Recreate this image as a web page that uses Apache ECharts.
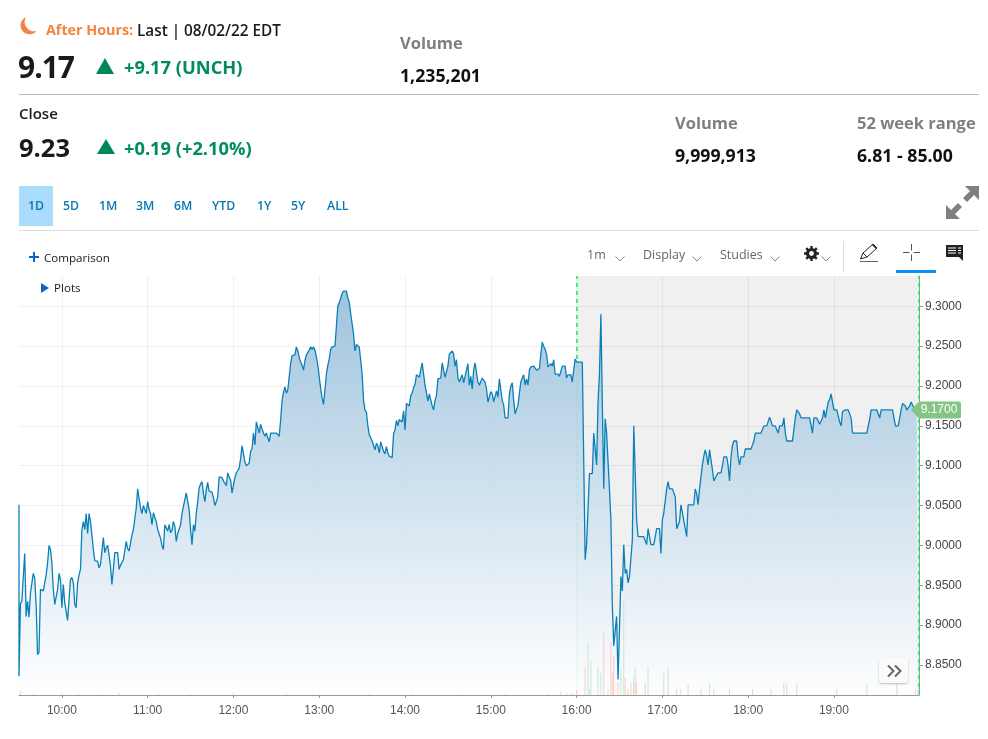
<!DOCTYPE html>
<html>
<head>
<meta charset="utf-8">
<title>After Hours chart</title>
<script src="https://cdn.jsdelivr.net/npm/echarts@6/dist/echarts.min.js"></script>
<style>
html, body { margin: 0; padding: 0; background: #fff; }
body { width: 988px; height: 739px; position: relative; overflow: hidden; font-family: "Open Sans", sans-serif; color: #1a1a1a; }
#chart { position: absolute; left: 0; top: 0; width: 988px; height: 739px; }
.t { position: absolute; white-space: nowrap; line-height: 20px; height: 20px; z-index: 2; }
.b { font-weight: 700; }
.green { color: #008c5c; font-weight: 700; font-size: 18.300px; }
.gray { color: #7f7f7f; font-weight: 700; font-size: 16.500px; }
.val { color: #111; font-weight: 700; font-size: 17.700px; }
.rng { color: #0a78b5; font-size: 12.300px; font-weight: 600; }
.tool { color: #666; font-size: 12.500px; }
.hr { position: absolute; left: 19px; width: 960px; height: 1px; }
svg { position: absolute; z-index: 2; overflow: visible; }
#more { position: absolute; left: 879px; top: 658px; width: 29px; height: 25px; background: #fafafa; border-radius: 3px; box-shadow: 0 1px 2px rgba(0,0,0,.25); z-index: 3; }
</style>
</head>
<body>
<div id="chart"></div>

<svg style="left:19px;top:17px" width="18" height="19" viewBox="0 0 18 19"><path d="M7 0 A9 9 0 1 0 17.5 14 A9.5 9.5 0 0 1 7 0 Z" fill="#f58240"/></svg>
<div class="t b" style="left:46px;top:20px;font-size:14.300px;color:#f58240">After Hours:</div>
<div class="t" style="left:137px;top:20px;font-size:15.300px;font-weight:600">Last | 08/02/22 EDT</div>
<div class="t b" style="left:18px;top:57px;font-size:30px;letter-spacing:-1px">9.17</div>
<svg style="left:96px;top:58px" width="18" height="16"><path d="M9 0 L18 16 L0 16 Z" fill="#00875a"/></svg>
<div class="t green" style="left:124px;top:57px">+9.17 (UNCH)</div>
<div class="t gray" style="left:400px;top:33px">Volume</div>
<div class="t val" style="left:400px;top:65px">1,235,201</div>
<div class="hr" style="top:94px;background:#bbb"></div>
<div class="t" style="left:19px;top:103px;font-size:15px;font-weight:600">Close</div>
<div class="t b" style="left:19px;top:137px;font-size:25.500px">9.23</div>
<svg style="left:97px;top:139px" width="18" height="15"><path d="M9 0 L18 15 L0 15 Z" fill="#00875a"/></svg>
<div class="t green" style="left:124px;top:138px">+0.19 (+2.10%)</div>
<div class="t gray" style="left:675px;top:113px">Volume</div>
<div class="t val" style="left:675px;top:145px">9,999,913</div>
<div class="t gray" style="left:857px;top:113px">52 week range</div>
<div class="t val" style="left:857px;top:145px">6.81 - 85.00</div>

<div style="position:absolute;left:19px;top:186px;width:34px;height:40px;background:#acdcfd"></div>
<div class="t rng" style="left:28px;top:196px">1D</div>
<div class="t rng" style="left:63px;top:196px">5D</div>
<div class="t rng" style="left:99px;top:196px">1M</div>
<div class="t rng" style="left:136px;top:196px">3M</div>
<div class="t rng" style="left:174px;top:196px">6M</div>
<div class="t rng" style="left:212px;top:196px">YTD</div>
<div class="t rng" style="left:257px;top:196px">1Y</div>
<div class="t rng" style="left:291px;top:196px">5Y</div>
<div class="t rng" style="left:327px;top:196px">ALL</div>
<svg style="left:946px;top:186px" width="34" height="34" viewBox="0 0 34 34"><path d="M19 0 H33 V14 L28 9 L21 16 L17 12 L24 5 Z M14 33 H0 V19 L5 24 L12 17 L16 21 L9 28 Z" fill="#808080"/></svg>
<div class="hr" style="top:230px;background:#ddd"></div>

<svg style="left:29px;top:252px" width="10" height="10"><path d="M4 0 H6 V4 H10 V6 H6 V10 H4 V6 H0 V4 H4 Z" fill="#0a66c2"/></svg>
<div class="t" style="left:44px;top:248px;font-size:11.600px">Comparison</div>
<div class="t tool" style="left:587px;top:245px">1m</div>
<div class="t tool" style="left:643px;top:245px">Display</div>
<div class="t tool" style="left:720px;top:245px">Studies</div>
<svg style="left:615px;top:256px" width="10" height="6"><path d="M0.500 0.500 L5 5 L9.500 0.500" fill="none" stroke="#888"/></svg>
<svg style="left:692px;top:256px" width="10" height="6"><path d="M0.500 0.500 L5 5 L9.500 0.500" fill="none" stroke="#888"/></svg>
<svg style="left:770px;top:256px" width="10" height="6"><path d="M0.500 0.500 L5 5 L9.500 0.500" fill="none" stroke="#888"/></svg>
<svg style="left:821px;top:256px" width="10" height="6"><path d="M0.500 0.500 L5 5 L9.500 0.500" fill="none" stroke="#888"/></svg>
<svg style="left:804px;top:246px" width="15" height="15" viewBox="0 0 15 15"><circle cx="7.500" cy="7.500" r="4" fill="none" stroke="#222" stroke-width="3"/><path d="M7.500 0 V15 M0 7.500 H15 M2.200 2.200 L12.800 12.800 M12.800 2.200 L2.200 12.800" stroke="#222" stroke-width="2.400"/><circle cx="7.500" cy="7.500" r="2.400" fill="#fff"/></svg>
<div style="position:absolute;left:843px;top:241px;width:1px;height:31px;background:#ddd"></div>
<svg style="left:860px;top:243px" width="19" height="19" viewBox="0 0 19 19"><path d="M0.500 16 L3 10 L13 1 L17 5 L7 14 Z M3 10 L7 14" fill="none" stroke="#222"/><path d="M12 2 L13 1 L17 5 L16 6 Z" fill="#222"/><path d="M0 18.500 H18" stroke="#666"/></svg>
<svg style="left:903px;top:244px" width="17" height="17"><path d="M8.500 0 V6.500 M8.500 10.500 V17 M0 8.500 H6.500 M10.500 8.500 H17" stroke="#555"/></svg>
<div style="position:absolute;left:896px;top:270px;width:40px;height:3px;background:#0a90ee"></div>
<svg style="left:946px;top:245px" width="18" height="17" viewBox="0 0 18 17"><path d="M0 0 H17 V12 H17 V16 L13 12 H0 Z" fill="#222"/><path d="M2 3 H10 M2 5.500 H10 M2 8 H10 M12 3 H15 M12 5.500 H15 M12 8 H15" stroke="#fff"/></svg>
<svg style="left:41px;top:283px" width="8" height="10"><path d="M0 0 L8 5 L0 10 Z" fill="#0a66c2"/></svg>
<div class="t" style="left:54px;top:278px;font-size:11.600px">Plots</div>

<div id="more"><svg style="left:8px;top:7px" width="15" height="12"><path d="M1 0.500 L6.500 6 L1 11.500 M8 0.500 L13.500 6 L8 11.500" fill="none" stroke="#666" stroke-width="2"/></svg></div>

<script>
// first print of the day, sits at 09:30 with the first minute bar
var openPrint = 9.051;
var startMinute = 570; // 09:30
var endMinute = 1199.5;
var afterHoursMinute = 960; // 16:00

// one close per minute from 09:30
var prices = [
    8.836, 8.927, 8.930, 8.961, 8.990, 8.911, 8.930, 8.910, 8.940, 8.941,
    8.965, 8.959, 8.924, 8.863, 8.866, 8.945, 8.943, 8.943, 8.953, 8.963,
    8.978, 9.000, 8.995, 8.978, 8.945, 8.926, 8.926, 8.945, 8.965, 8.957,
    8.922, 8.951, 8.928, 8.930, 8.906, 8.932, 8.957, 8.960, 8.953, 8.926,
    8.922, 8.953, 8.963, 8.970, 9.020, 9.030, 9.020, 9.040, 9.015, 9.040,
    9.030, 9.013, 8.995, 8.981, 8.981, 8.980, 8.972, 8.976, 8.993, 9.010,
    8.991, 8.997, 9.000, 8.988, 8.974, 8.951, 8.970, 8.991, 8.991, 8.991,
    8.970, 8.975, 8.977, 8.982, 8.982, 9.005, 8.996, 8.993, 8.991, 9.013,
    9.020, 9.020, 9.047, 9.071, 9.071, 9.047, 9.040, 9.050, 9.050, 9.040,
    9.055, 9.045, 9.040, 9.026, 9.041, 9.040, 9.030, 9.020, 9.018, 9.009,
    9.000, 8.995, 9.026, 9.026, 9.018, 9.026, 9.016, 9.019, 9.030, 9.024,
    9.005, 9.015, 9.016, 9.026, 9.040, 9.049, 9.051, 9.066, 9.066, 9.045,
    9.020, 9.001, 9.026, 9.018, 9.040, 9.055, 9.072, 9.077, 9.080, 9.065,
    9.055, 9.070, 9.079, 9.068, 9.068, 9.067, 9.060, 9.050, 9.055, 9.061,
    9.086, 9.086, 9.085, 9.081, 9.078, 9.075, 9.091, 9.086, 9.082, 9.066,
    9.066, 9.085, 9.091, 9.094, 9.097, 9.109, 9.125, 9.125, 9.105, 9.100,
    9.100, 9.103, 9.118, 9.121, 9.141, 9.126, 9.155, 9.148, 9.141, 9.152,
    9.146, 9.141, 9.137, 9.141, 9.135, 9.130, 9.141, 9.141, 9.141, 9.141,
    9.141, 9.141, 9.137, 9.157, 9.182, 9.192, 9.199, 9.191, 9.195, 9.196,
    9.228, 9.238, 9.239, 9.239, 9.249, 9.244, 9.236, 9.230, 9.226, 9.220,
    9.232, 9.239, 9.240, 9.245, 9.249, 9.246, 9.249, 9.245, 9.237, 9.226,
    9.226, 9.197, 9.185, 9.177, 9.195, 9.215, 9.226, 9.234, 9.246, 9.249,
    9.247, 9.250, 9.275, 9.301, 9.304, 9.306, 9.316, 9.319, 9.319, 9.319,
    9.310, 9.305, 9.291, 9.289, 9.265, 9.244, 9.252, 9.251, 9.249, 9.249,
    9.215, 9.182, 9.170, 9.167, 9.150, 9.139, 9.135, 9.131, 9.133, 9.120,
    9.128, 9.125, 9.116, 9.130, 9.131, 9.118, 9.115, 9.124, 9.116, 9.112,
    9.114, 9.110, 9.140, 9.145, 9.157, 9.150, 9.158, 9.156, 9.155, 9.169,
    9.145, 9.178, 9.177, 9.175, 9.188, 9.191, 9.198, 9.202, 9.214, 9.212,
    9.211, 9.210, 9.229, 9.215, 9.201, 9.199, 9.181, 9.190, 9.189, 9.175,
    9.170, 9.182, 9.188, 9.209, 9.210, 9.210, 9.229, 9.220, 9.211, 9.210,
    9.225, 9.240, 9.242, 9.244, 9.240, 9.225, 9.233, 9.210, 9.205, 9.204,
    9.214, 9.204, 9.205, 9.220, 9.228, 9.201, 9.212, 9.196, 9.220, 9.229,
    9.229, 9.205, 9.201, 9.199, 9.210, 9.209, 9.205, 9.196, 9.180, 9.180,
    9.193, 9.190, 9.180, 9.180, 9.194, 9.186, 9.209, 9.195, 9.182, 9.176,
    9.160, 9.160, 9.160, 9.190, 9.200, 9.204, 9.182, 9.165, 9.165, 9.176,
    9.178, 9.205, 9.210, 9.214, 9.201, 9.209, 9.201, 9.220, 9.224, 9.225,
    9.225, 9.225, 9.220, 9.222, 9.222, 9.240, 9.255, 9.250, 9.246, 9.240,
    9.224, 9.225, 9.228, 9.225, 9.233, 9.215, 9.215, 9.215, 9.212, 9.210,
    9.225, 9.225, 9.225, 9.210, 9.214, 9.214, 9.214, 9.205, 9.220, 9.234,
    9.230, 9.230, 9.230, 9.230, 9.230, 9.230, 8.982, 9.001, 9.001, 9.090,
    9.090, 9.090, 9.141, 9.141, 9.101, 9.180, 9.215, 9.290, 9.180, 9.071,
    9.159, 9.141, 9.141, 9.070, 9.032, 8.925, 8.874, 8.872, 8.911, 8.832,
    8.895, 8.961, 8.943, 9.001, 8.965, 8.970, 8.953, 8.961, 8.961, 9.007,
    9.150, 9.090, 9.032, 9.011, 9.011, 9.011, 9.011, 9.011, 9.011, 9.001,
    9.021, 9.019, 9.001, 9.001, 9.001, 9.001, 9.021, 9.021, 9.021, 8.990,
    9.032, 9.041, 9.041, 9.071, 9.080, 9.071, 9.071, 9.071, 9.071, 9.061,
    9.021, 9.021, 9.030, 9.051, 9.051, 9.031, 9.031, 9.011, 9.051, 9.051,
    9.051, 9.051, 9.051, 9.071, 9.065, 9.051, 9.071, 9.071, 9.101, 9.112,
    9.120, 9.112, 9.101, 9.120, 9.120, 9.095, 9.081, 9.081, 9.088, 9.091,
    9.091, 9.091, 9.100, 9.111, 9.111, 9.111, 9.100, 9.081, 9.111, 9.125,
    9.131, 9.131, 9.131, 9.110, 9.101, 9.111, 9.111, 9.111, 9.121, 9.121,
    9.121, 9.121, 9.121, 9.121, 9.131, 9.141, 9.141, 9.141, 9.141, 9.141,
    9.141, 9.150, 9.150, 9.150, 9.150, 9.161, 9.161, 9.150, 9.150, 9.150,
    9.145, 9.141, 9.150, 9.150, 9.150, 9.160, 9.141, 9.131, 9.131, 9.131,
    9.131, 9.131, 9.131, 9.160, 9.170, 9.170, 9.165, 9.160, 9.160, 9.160,
    9.160, 9.160, 9.160, 9.160, 9.160, 9.141, 9.160, 9.160, 9.160, 9.160,
    9.152, 9.150, 9.160, 9.170, 9.160, 9.160, 9.180, 9.183, 9.190, 9.190,
    9.170, 9.170, 9.170, 9.170, 9.155, 9.150, 9.168, 9.170, 9.170, 9.170,
    9.170, 9.170, 9.160, 9.141, 9.141, 9.141, 9.141, 9.141, 9.141, 9.141,
    9.141, 9.141, 9.141, 9.141, 9.150, 9.158, 9.170, 9.170, 9.170, 9.170,
    9.170, 9.165, 9.160, 9.170, 9.170, 9.170, 9.170, 9.170, 9.170, 9.170,
    9.170, 9.170, 9.170, 9.150, 9.150, 9.150, 9.152, 9.170, 9.178, 9.180,
    9.175, 9.170, 9.170, 9.175, 9.180, 9.180, 9.172, 9.170, 9.170
];

// volume in thousands, minute of day and size
var volUpMinutes = [600, 628, 690, 757, 845, 910, 949, 953, 956, 958, 968, 969, 970, 975, 977, 982, 991, 993, 998, 1000, 1001, 1008, 1010, 1021, 1024, 1033, 1038, 1047, 1053, 1083, 1096, 1105, 1114, 1142, 1163, 1199];
var volUp = [2, 1, 1, 2, 1, 1, 3, 2, 2, 2, 53, 6, 34, 28, 22, 6, 28, 95, 12, 18, 28, 12, 28, 22, 28, 6, 11, 6, 12, 6, 6, 12, 12, 6, 12, 6];
var volDownMinutes = [571, 580, 612, 640, 668, 720, 775, 815, 880, 940, 960, 966, 979, 984, 985, 986, 989, 994, 996, 1000, 1002, 1030, 1056, 1067, 1107, 1184, 1197];
var volDown = [4, 1, 1, 2, 1, 2, 1, 1, 1, 1, 5, 28, 63, 53, 23, 40, 13, 17, 6, 12, 12, 6, 6, 6, 12, 12, 5];

var hourTicks = [600, 660, 720, 780, 840, 900, 960, 1020, 1080, 1140];
var priceTicks = [8.85, 8.90, 8.95, 9.00, 9.05, 9.10, 9.15, 9.20, 9.25, 9.30];
var lastPrice = 9.17;

function pairs(xs, ys) {
    return xs.map(function (x, i) { return [x, ys[i]]; });
}

var priceData = [[startMinute, openPrint]];
prices.forEach(function (p, i) { priceData.push([startMinute + i, p]); });

var myChart = echarts.init(document.getElementById('chart'));

var gridColor = 'rgba(0,0,0,0.06)';
var option = {
    animation: false,
    grid: { left: 19, top: 276, width: 900, height: 419 },
    xAxis: {
        type: 'value',
        min: startMinute,
        max: endMinute,
        axisLine: { onZero: false, lineStyle: { color: '#999' } },
        axisTick: { show: true, length: 3, customValues: hourTicks, lineStyle: { color: '#999' } },
        splitLine: { show: true, lineStyle: { color: gridColor } },
        axisLabel: {
            customValues: hourTicks,
            color: '#555',
            fontFamily: 'Liberation Sans',
            fontSize: 12,
            margin: 10,
            formatter: function (v) { return Math.floor(v / 60) + ':00'; }
        }
    },
    yAxis: [{
        type: 'value',
        position: 'right',
        min: 8.8124,
        max: 9.338,
        axisLine: { show: true, lineStyle: { color: '#999' } },
        axisTick: { show: true, length: 4, customValues: priceTicks, lineStyle: { color: '#999' } },
        splitLine: { show: true, lineStyle: { color: gridColor } },
        axisLabel: {
            customValues: priceTicks,
            color: '#444',
            fontFamily: 'Liberation Sans',
            fontSize: 12,
            margin: 6,
            formatter: function (v) { return v.toFixed(4); }
        }
    }, {
        type: 'value',
        show: false,
        min: 0,
        max: 419
    }],
    series: [{
        // after hours shading and session markers, under the price area
        type: 'line',
        z: 1,
        data: [],
        silent: true,
        markArea: {
            silent: true,
            z: 1,
            itemStyle: { color: 'rgba(0,0,0,0.06)' },
            data: [[{ xAxis: afterHoursMinute }, { xAxis: endMinute }]]
        },
        markLine: {
            silent: true,
            z: 1,
            symbol: 'none',
            label: { show: false },
            lineStyle: { color: '#00f060', type: [4, 4], width: 1.5 },
            data: [{ xAxis: afterHoursMinute }, { xAxis: endMinute }]
        }
    }, {
        name: 'Price',
        type: 'line',
        z: 3,
        symbol: 'none',
        data: priceData,
        lineStyle: { color: '#0b80b8', width: 1.3 },
        areaStyle: {
            origin: 'start',
            opacity: 1,
            color: new echarts.graphic.LinearGradient(0, 0, 0, 1, [
                { offset: 0, color: 'rgba(152,191,219,0.93)' },
                { offset: 1, color: 'rgba(255,255,255,0.88)' }
            ])
        },
        markPoint: {
            silent: true,
            symbol: 'path://M0 8.500 L8 0 L48 0 Q50 0 50 2 L50 15 Q50 17 48 17 L8 17 Z',
            symbolSize: [50, 17],
            symbolOffset: [17, 0],
            itemStyle: { color: '#84c585' },
            label: {
                show: true,
                position: 'inside',
                offset: [3, 0],
                color: '#fff',
                fontFamily: 'Liberation Sans',
                fontSize: 12,
                formatter: function () { return lastPrice.toFixed(4); }
            },
            data: [{ coord: [endMinute, lastPrice] }]
        }
    }, {
        name: 'Volume up',
        type: 'bar',
        z: 4,
        yAxisIndex: 1,
        barWidth: 1,
        barGap: '-100%',
        itemStyle: { color: '#c4e8d0' },
        data: pairs(volUpMinutes, volUp)
    }, {
        name: 'Volume down',
        type: 'bar',
        z: 4,
        yAxisIndex: 1,
        barWidth: 1,
        barGap: '-100%',
        itemStyle: { color: '#fdc9c9' },
        data: pairs(volDownMinutes, volDown)
    }]
};

myChart.setOption(option);
</script>
</body>
</html>
